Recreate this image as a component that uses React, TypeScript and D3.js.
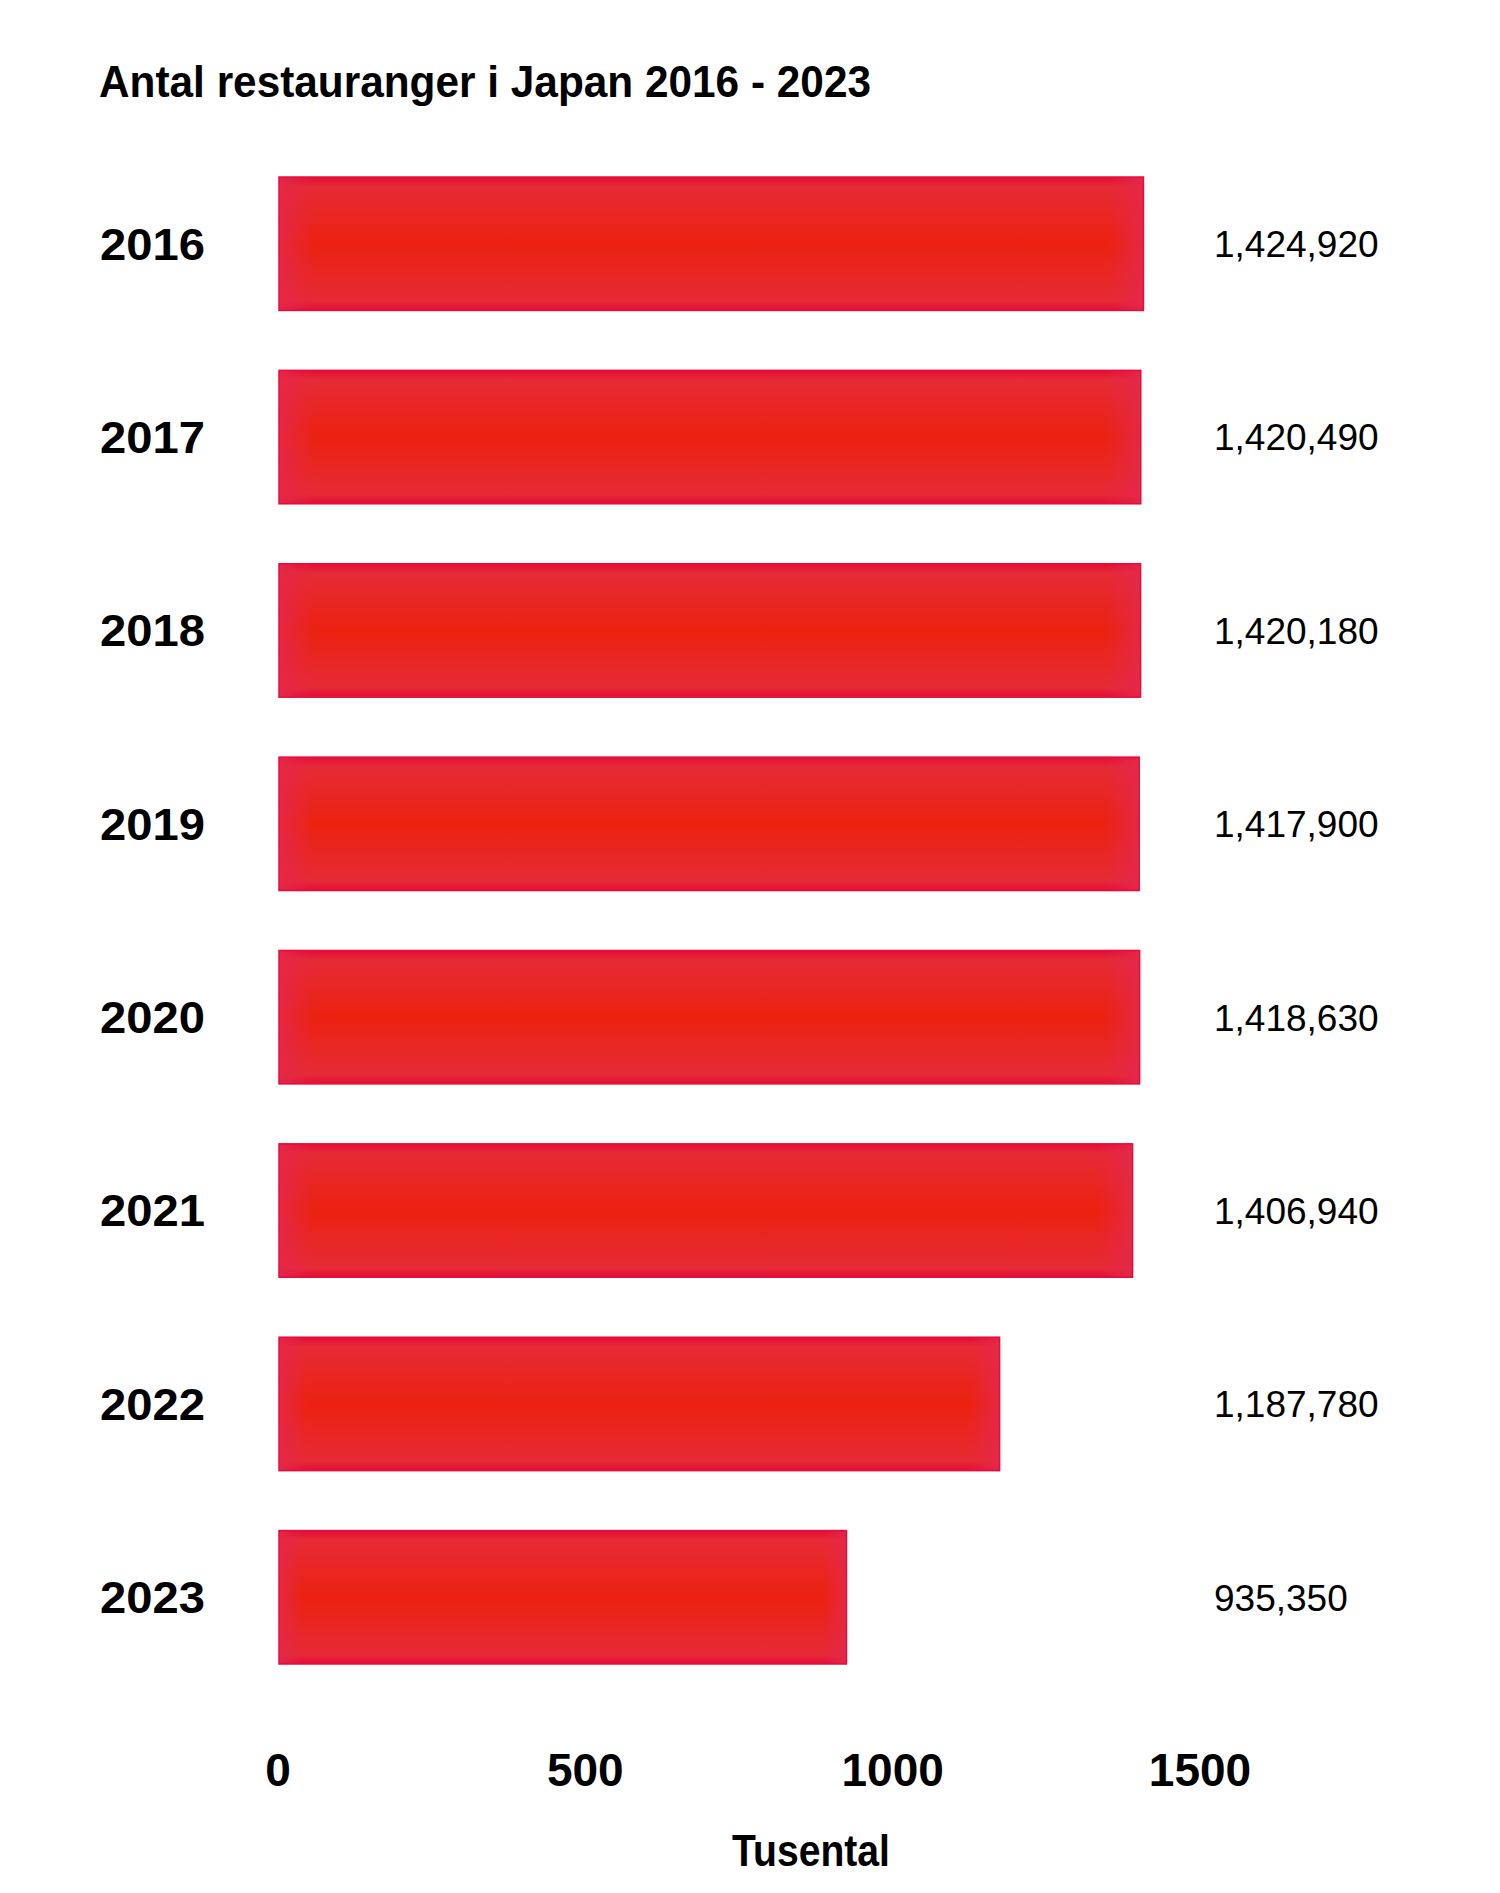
import * as d3 from "d3";

const years = ["2016", "2017", "2018", "2019", "2020", "2021", "2022", "2023"];
const restaurants = [1424920, 1420490, 1420180, 1417900, 1418630, 1406940, 1187780, 935350];
const tickValues = [0, 500, 1000, 1500];

const W = 1500;
const H = 1893;
const FONT = '"Liberation Sans", Arial, sans-serif';

export default function App() {
  // bars and the printed axis don't line up exactly in the original, so two scales
  const x = d3.scaleLinear().domain([0, 1500]).range([279, 1189]);
  const xAxis = d3.scaleLinear().domain([0, 1500]).range([278, 1200]);
  const y = d3.scaleBand<string>().domain(years).range([148, 1693]).paddingInner(0.31).paddingOuter(0.15);
  const fmt = d3.format(",");

  return (
    <svg
      width={W}
      height={H}
      viewBox={`0 0 ${W} ${H}`}
      style={{ position: "absolute", left: 0, top: 0, background: "#fff" }}
    >
      <defs>
        <linearGradient id="barFill" x1="0" y1="0" x2="0" y2="1">
          <stop offset="0%" stopColor="#e50b38" />
          <stop offset="7%" stopColor="#e62a36" />
          <stop offset="50%" stopColor="#ec2210" />
          <stop offset="93%" stopColor="#e62a36" />
          <stop offset="100%" stopColor="#e50b38" />
        </linearGradient>
        <linearGradient id="barEdge" x1="0" y1="0" x2="1" y2="0">
          <stop offset="0%" stopColor="#e4284a" stopOpacity={0.9} />
          <stop offset="4%" stopColor="#e4284a" stopOpacity={0} />
          <stop offset="96%" stopColor="#e4284a" stopOpacity={0} />
          <stop offset="100%" stopColor="#e4284a" stopOpacity={0.9} />
        </linearGradient>
      </defs>

      <text
        x={99}
        y={97}
        fontFamily={FONT}
        fontWeight={700}
        fontSize={44}
        textLength={772}
        lengthAdjust="spacingAndGlyphs"
        fill="#000"
      >
        Antal restauranger i Japan 2016 - 2023
      </text>

      {years.map((yr, i) => {
        const v = restaurants[i] / 1000;
        const top = y(yr)!;
        const cy = top + y.bandwidth() / 2;
        const w = x(v) - x(0);
        return (
          <g key={yr}>
            <rect x={x(0)} y={top} width={w} height={y.bandwidth()} fill="url(#barFill)" />
            <rect
              x={x(0)}
              y={top}
              width={w}
              height={y.bandwidth()}
              fill="url(#barEdge)"
              stroke="#e60d3c"
              strokeWidth={1.5}
            />
            <text
              x={100}
              y={cy}
              dy="0.36em"
              fontFamily={FONT}
              fontWeight={700}
              fontSize={44}
              textLength={105}
              lengthAdjust="spacingAndGlyphs"
              fill="#000"
            >
              {yr}
            </text>
            <text x={1214} y={cy} dy="0.36em" fontFamily={FONT} fontSize={37} fill="#000">
              {fmt(restaurants[i])}
            </text>
          </g>
        );
      })}

      {tickValues.map((t) => (
        <text
          key={t}
          x={xAxis(t)}
          y={1786}
          textAnchor="middle"
          fontFamily={FONT}
          fontWeight={700}
          fontSize={46}
          fill="#000"
        >
          {t}
        </text>
      ))}

      <text
        x={811}
        y={1866}
        textAnchor="middle"
        fontFamily={FONT}
        fontWeight={700}
        fontSize={45}
        textLength={158}
        lengthAdjust="spacingAndGlyphs"
        fill="#000"
      >
        Tusental
      </text>
    </svg>
  );
}
